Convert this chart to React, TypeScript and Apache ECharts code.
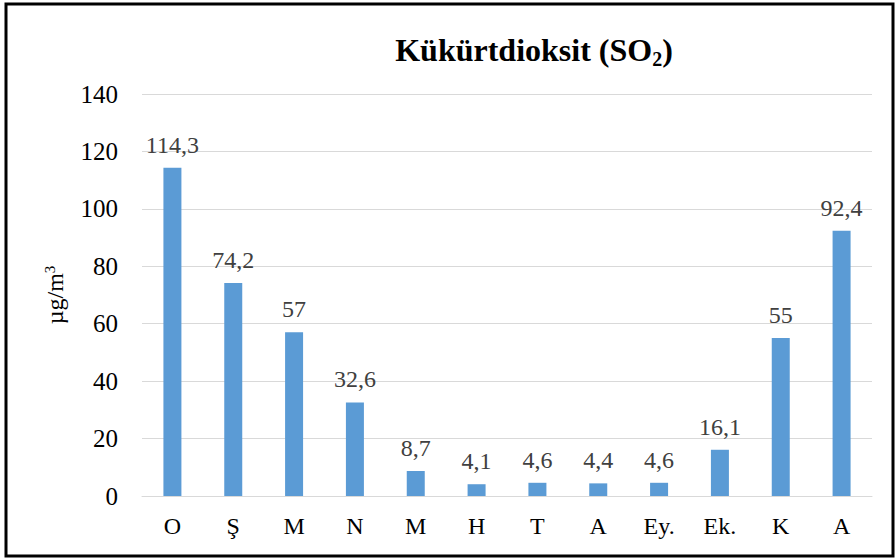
import React, { useEffect, useRef } from "react";
import * as echarts from "echarts";

const categories = ["O", "Ş", "M", "N", "M", "H", "T", "A", "Ey.", "Ek.", "K", "A"];
const values = [114.3, 74.2, 57, 32.6, 8.7, 4.1, 4.6, 4.4, 4.6, 16.1, 55, 92.4];
const yTicks = { min: 0, max: 140, interval: 20 };
const titleText = "{t|Kükürtdioksit (SO}{sub|2}{t|)}";
const yAxisName = "µg/m{sup|3}";

const FONT = "Times New Roman";

export default function App() {
  const ref = useRef<HTMLDivElement>(null);
  useEffect(() => {
    document.body.style.margin = "0";
    const chart = echarts.init(ref.current!, null, { renderer: "svg" });
    chart.setOption({
      animation: false,
      backgroundColor: "#ffffff",
      textStyle: { fontFamily: FONT },
      title: {
        text: titleText,
        left: 529,
        textAlign: "center",
        top: 25,
        textStyle: {
          fontFamily: FONT,
          fontWeight: "bold",
          fontSize: 32,
          color: "#000",
          rich: {
            t: {
              fontFamily: FONT,
              fontWeight: "bold",
              fontSize: 32,
              color: "#000",
              lineHeight: 40,
            },
            sub: {
              fontFamily: FONT,
              fontWeight: "bold",
              fontSize: 20,
              color: "#000",
              lineHeight: 40,
              padding: [17, 0, 0, 0],
            },
          },
        },
      },
      grid: { left: 142, right: 23, top: 94, bottom: 64 },
      xAxis: {
        type: "category",
        data: categories,
        axisLine: { lineStyle: { color: "#D9D9D9", width: 1 } },
        axisTick: { show: false },
        axisLabel: { fontFamily: FONT, fontSize: 24, color: "#000", margin: 18 },
      },
      yAxis: {
        type: "value",
        min: yTicks.min,
        max: yTicks.max,
        interval: yTicks.interval,
        name: yAxisName,
        nameLocation: "middle",
        nameGap: 74,
        nameTextStyle: {
          fontFamily: FONT,
          fontSize: 24,
          color: "#000",
          rich: {
            sup: { fontFamily: FONT, fontSize: 15, color: "#000", padding: [0, 0, 11, 0] },
          },
        },
        axisLine: { show: false },
        axisTick: { show: false },
        splitLine: { lineStyle: { color: "#D9D9D9", width: 1 } },
        axisLabel: { fontFamily: FONT, fontSize: 25, color: "#000", margin: 24 },
      },
      series: [
        {
          type: "bar",
          data: values,
          barWidth: 18,
          itemStyle: { color: "#5B9BD5" },
          label: {
            show: true,
            position: "top",
            distance: 11,
            fontFamily: FONT,
            fontSize: 24,
            color: "#404040",
            formatter: (p: any) => String(p.value).replace(".", ","),
          },
        },
      ],
      graphic: [
        {
          type: "rect",
          shape: { x: 6, y: 4, width: 887, height: 552 },
          style: { fill: "none", stroke: "#000", lineWidth: 3 },
          silent: true,
        },
      ],
    });
    return () => chart.dispose();
  }, []);
  return (
    <div
      ref={ref}
      style={{ position: "absolute", left: 0, top: 0, width: 895, height: 560 }}
    />
  );
}
